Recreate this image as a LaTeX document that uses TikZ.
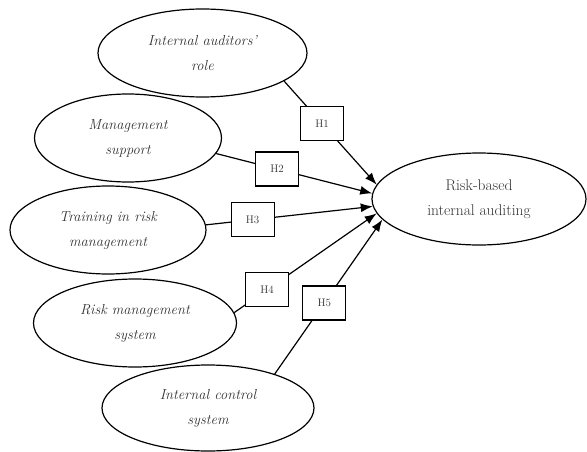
\documentclass[tikz,border=0pt]{standalone}
\usetikzlibrary{arrows.meta,shapes.geometric}
\begin{document}
\begin{tikzpicture}[x=1pt,y=-1pt,
  oval/.style={draw, ellipse, line width=1.2pt, inner sep=0pt, align=center,
    text=black!80, font=\itshape\fontsize{14.5}{25}\selectfont},
  target/.style={draw, ellipse, line width=1.2pt, inner sep=0pt, align=center,
    text=black!80, font=\fontsize{15.5}{25}\selectfont},
  hbox/.style={draw, fill=white, line width=1.2pt, minimum width=43pt, minimum height=34pt,
    inner sep=0pt, text=black!80, font=\fontsize{11}{12}\selectfont},
  link/.style={line width=1.2pt, -{Latex[length=12pt,width=9pt]}}]
\useasboundingbox (0,0) rectangle (587,452);
\node[oval, minimum width=209pt, minimum height=88pt] (e1) at (202.5,53) {Internal auditors'\\role};
\node[oval, minimum width=187pt, minimum height=88pt] (e2) at (128,138) {Management\\support};
\node[oval, minimum width=196pt, minimum height=88pt] (e3) at (108,230) {Training in risk\\management};
\node[oval, minimum width=203pt, minimum height=88pt] (e4) at (135,323) {Risk management\\system};
\node[oval, minimum width=212pt, minimum height=86pt] (e5) at (208,408) {Internal control\\system};
\node[target, minimum width=214pt, minimum height=92pt] (t) at (479,199) {Risk-based\\internal auditing};
\draw[link] (e1.341) -- node[hbox, pos=0.41] (h1) {H1} (t.172);
\draw[link] (e2.350) -- node[hbox, pos=0.39] (h2) {H2} (t.177);
\draw[link] (e3.3) -- node[hbox, pos=0.28] (h3) {H3} (t.184);
\draw[link] (e4.6) -- node[hbox, pos=0.23] (h4) {H4} (t.188);
\draw[link] (e5.27) -- node[hbox, pos=0.46] (h5) {H5} (t.192);
\end{tikzpicture}
\end{document}
